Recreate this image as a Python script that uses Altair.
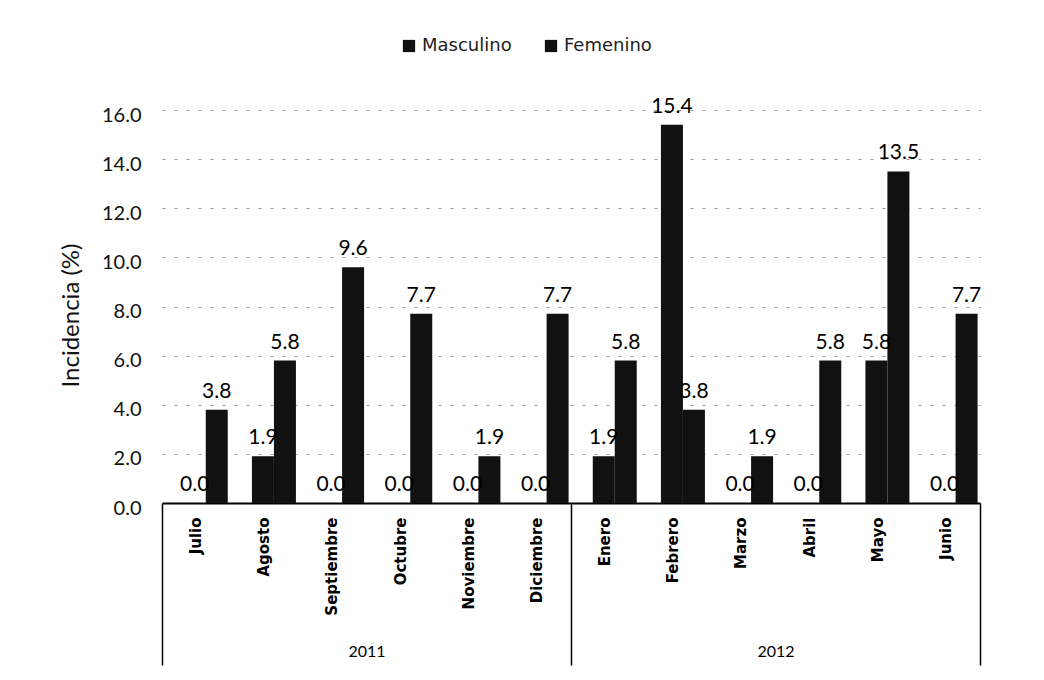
import altair as alt
import pandas as pd

months = ["Julio", "Agosto", "Septiembre", "Octubre", "Noviembre", "Diciembre",
          "Enero", "Febrero", "Marzo", "Abril", "Mayo", "Junio"]
years = ["2011"] * 6 + ["2012"] * 6
year_labels = ["2011", "2012"]
series = ["Masculino", "Femenino"]
masculino = [0.0, 1.9, 0.0, 0.0, 0.0, 0.0, 1.9, 15.4, 0.0, 0.0, 5.8, 0.0]
femenino = [3.8, 5.8, 9.6, 7.7, 1.9, 7.7, 5.8, 3.8, 1.9, 5.8, 13.5, 7.7]
y_ticks = [0, 2, 4, 6, 8, 10, 12, 14, 16]

rows = []
for m, yr, vm, vf in zip(months, years, masculino, femenino):
    rows.append({"mes": m, "anio": yr, "sexo": "Masculino", "valor": vm})
    rows.append({"mes": m, "anio": yr, "sexo": "Femenino", "valor": vf})
df = pd.DataFrame(rows)
year_df = pd.DataFrame({"anio": year_labels})

W, H = 818, 393
FONT = "Lato"

x_month = alt.X(
    "mes:N", sort=months,
    scale=alt.Scale(paddingInner=0, paddingOuter=0),
    axis=alt.Axis(title=None, labelAngle=-90, labelFont="DejaVu Sans",
                  labelFontWeight="bold", labelFontSize=15, labelColor="black",
                  labelPadding=14, ticks=False, grid=False, domainColor="black",
                  domainWidth=2, labelAlign="right", labelBaseline="middle"),
)
x_off = alt.XOffset("sexo:N", sort=series,
                    scale=alt.Scale(paddingInner=0, paddingOuter=0.55, align=0.9))
y_enc = alt.Y(
    "valor:Q",
    scale=alt.Scale(domain=[0, 16], nice=False),
    axis=alt.Axis(title="Incidencia (%)", values=y_ticks, format=".1f",
                  domain=False, ticks=False, labelFont=FONT, labelFontSize=20,
                  labelColor="#111", labelPadding=21, labelOffset=5,
                  titleFont=FONT, titleFontSize=24, titleFontWeight="normal",
                  titleColor="#111", titleX=-91, titleY=205, titleAngle=-90,
                  titleBaseline="middle", titleAlign="center",
                  grid=True, gridColor="#999", gridDash=[3, 9], gridWidth=1),
)

bars = alt.Chart(df).mark_bar().encode(
    x=x_month,
    xOffset=x_off,
    y=y_enc,
    color=alt.Color(
        "sexo:N", sort=series,
        scale=alt.Scale(domain=series, range=["#111111", "#111111"]),
        legend=alt.Legend(title=None, orient="none", direction="horizontal",
                          legendX=238, legendY=-73, symbolType="square",
                          symbolSize=150, labelFont="DejaVu Sans",
                          labelFontSize=18, labelColor="#222",
                          columnPadding=30, labelOffset=4),
    ),
)

labels = alt.Chart(df).mark_text(
    baseline="bottom", dy=-8, font=FONT, fontSize=21, color="black"
).encode(
    x=x_month,
    xOffset=x_off,
    y=alt.Y("valor:Q"),
    text=alt.Text("valor:Q", format=".1f"),
)

year_layer = alt.Chart(year_df).mark_point(opacity=0).encode(
    x=alt.X(
        "anio:N", sort=year_labels,
        scale=alt.Scale(type="band", paddingInner=0, paddingOuter=0),
        axis=alt.Axis(orient="bottom", title=None, labelAngle=0, domain=False,
                      grid=False, tickBand="extent", tickSize=162,
                      tickColor="black", tickWidth=1.5, labelPadding=-22,
                      labelFont=FONT, labelFontSize=16, labelColor="black",
                      labelBaseline="top"),
    ),
)

chart = alt.layer(
    alt.layer(bars, labels),
    year_layer,
).resolve_scale(x="independent").properties(
    width=W, height=H,
    background="white",
    autosize=alt.AutoSizeParams(type="none"),
    padding={"left": 154, "top": 102, "right": 56, "bottom": 169},
).configure_view(stroke="transparent", strokeWidth=0)

chart.save("out.html", embed_options={"renderer": "svg", "actions": False})
